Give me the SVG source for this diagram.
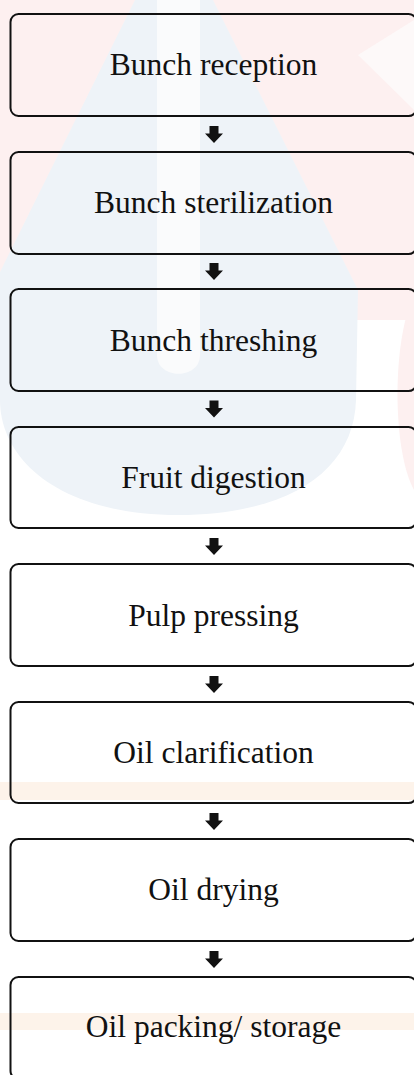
<svg xmlns="http://www.w3.org/2000/svg" width="414" height="1075" viewBox="0 0 414 1075">
<style>
.box{fill:none;stroke:#111;stroke-width:2;}
.lbl{font-family:"Liberation Serif","Times New Roman",serif;font-size:31.5px;fill:#111;text-anchor:middle;}
.arr{fill:#111;}
</style>
<defs>
<path id="arrowShape" d="M -4.5 0 L 4.5 0 L 4.5 7.5 L 9 7.5 L 0 17 L -9 7.5 L -4.5 7.5 Z"/>
</defs>
<g id="background">
<rect x="0" y="0" width="414" height="1075" fill="#ffffff"/>
<rect x="0" y="0" width="414" height="320" fill="#fdf0f0"/>
<path d="M 135 0 L 213 0 L 358 290 L 356 400 C 354 470 290 515 178 515 C 60 515 0 460 0 400 L 0 272 Z" fill="#eef3f8"/>
<path d="M 157 0 L 200 0 L 200 355 C 200 380 157 380 157 355 Z" fill="#fafbfc"/>
<path d="M 414 295 C 392 340 392 450 414 490 Z" fill="#fdf0f0"/>
<path d="M 414 20 L 358 55 L 414 110 Z" fill="#fdf9f9"/>
<rect x="0" y="782" width="414" height="18" fill="#fdf3ea"/>
<rect x="0" y="1013" width="414" height="17" fill="#fdf3ea"/>
</g>
<g id="n1"><rect class="box" x="10.5" y="14" width="406" height="102" rx="8"/><text class="lbl" x="213.5" y="75">Bunch reception</text></g>
<g id="n2"><rect class="box" x="10.5" y="152" width="406" height="102" rx="8"/><text class="lbl" x="213.5" y="213">Bunch sterilization</text></g>
<g id="n3"><rect class="box" x="10.5" y="289" width="406" height="102" rx="8"/><text class="lbl" x="213.5" y="351">Bunch threshing</text></g>
<g id="n4"><rect class="box" x="10.5" y="427" width="406" height="101" rx="8"/><text class="lbl" x="213.5" y="488">Fruit digestion</text></g>
<g id="n5"><rect class="box" x="10.5" y="564" width="406" height="102" rx="8"/><text class="lbl" x="213.5" y="626">Pulp pressing</text></g>
<g id="n6"><rect class="box" x="10.5" y="702" width="406" height="101" rx="8"/><text class="lbl" x="213.5" y="763">Oil clarification</text></g>
<g id="n7"><rect class="box" x="10.5" y="839" width="406" height="102" rx="8"/><text class="lbl" x="213.5" y="900">Oil drying</text></g>
<g id="n8"><rect class="box" x="10.5" y="977" width="406" height="102" rx="8"/><text class="lbl" x="213.5" y="1037">Oil packing/ storage</text></g>
<g id="connectors">
<use href="#arrowShape" class="arr" transform="translate(214,126)"/>
<use href="#arrowShape" class="arr" transform="translate(214,263)"/>
<use href="#arrowShape" class="arr" transform="translate(214,400.5)"/>
<use href="#arrowShape" class="arr" transform="translate(214,538)"/>
<use href="#arrowShape" class="arr" transform="translate(214,676)"/>
<use href="#arrowShape" class="arr" transform="translate(214,813)"/>
<use href="#arrowShape" class="arr" transform="translate(214,951)"/>
</g>
</svg>
